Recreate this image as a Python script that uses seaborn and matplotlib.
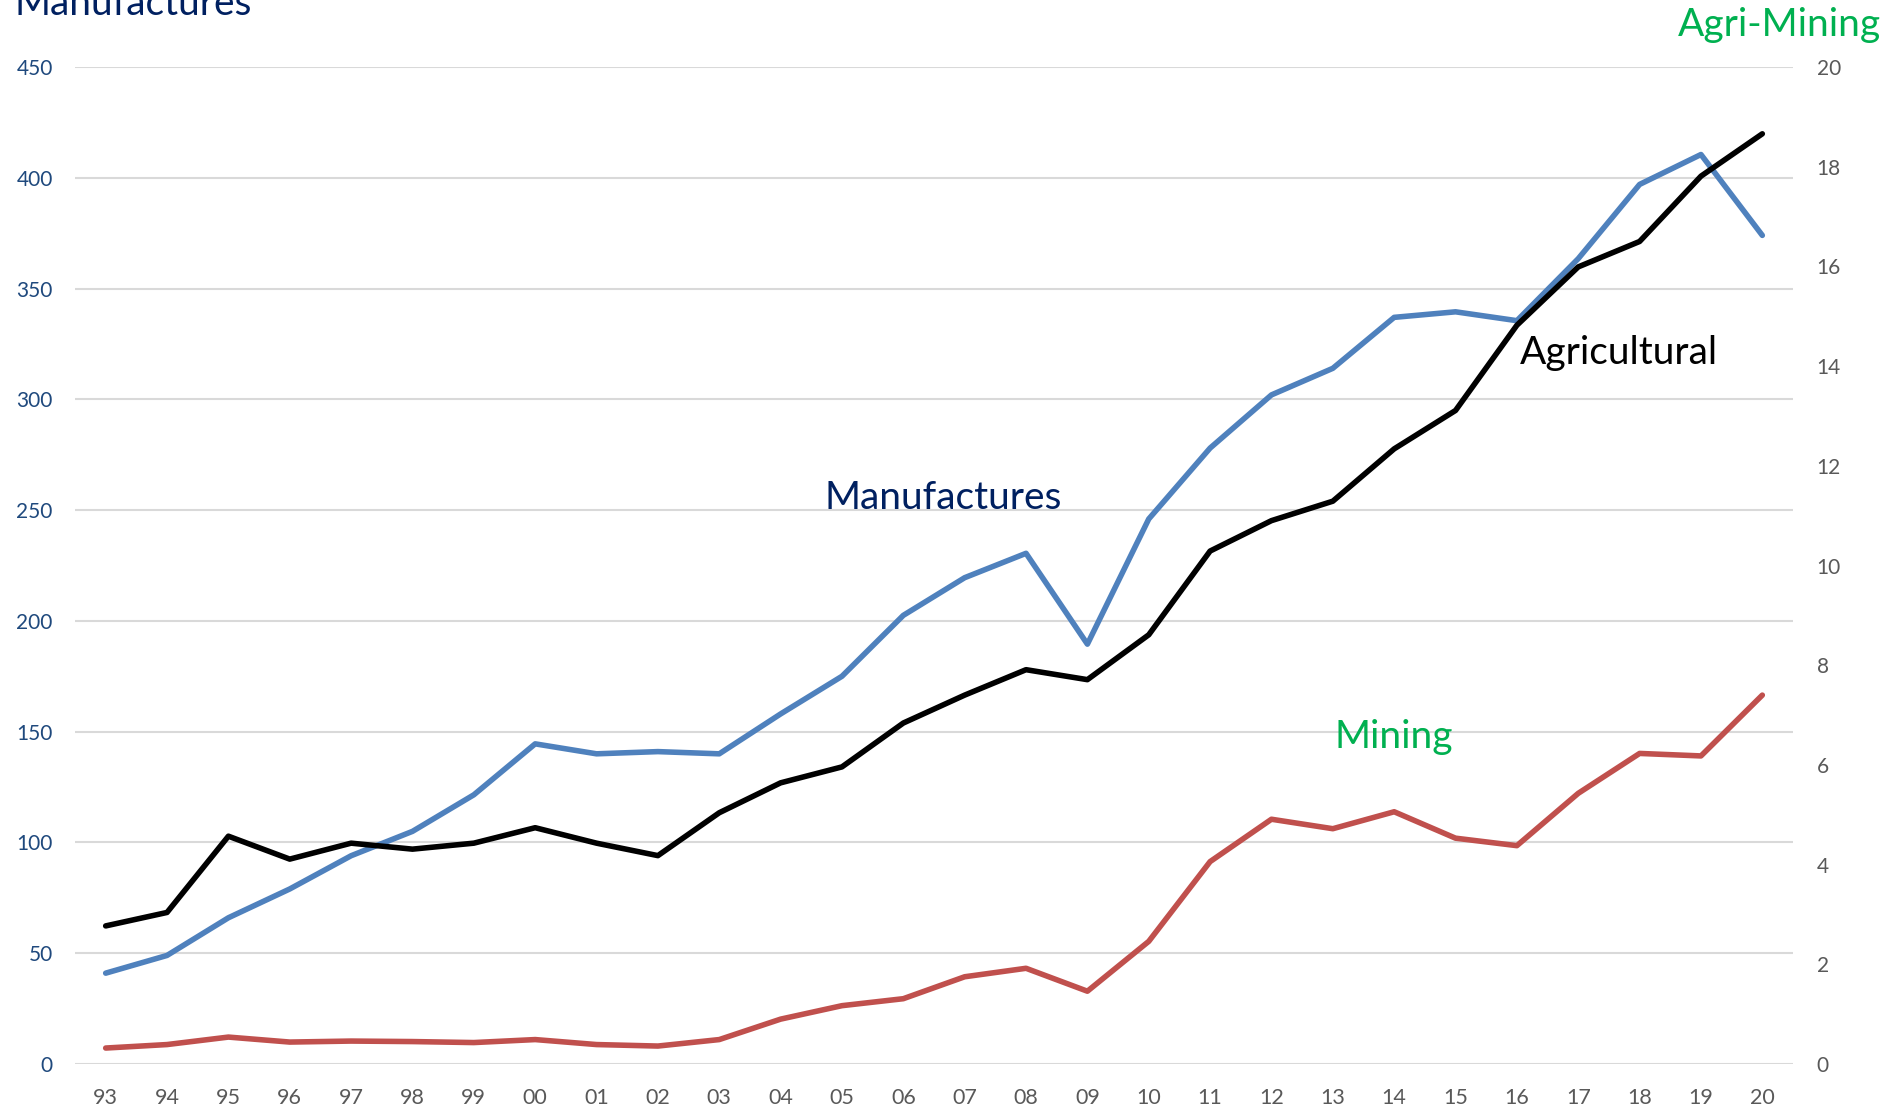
import numpy as np
import pandas as pd
import matplotlib
matplotlib.use("Agg")
import matplotlib.pyplot as plt
import seaborn as sns

# 年份标签
years = ["93", "94", "95", "96", "97", "98", "99", "00", "01", "02", "03", "04", "05", "06",
         "07", "08", "09", "10", "11", "12", "13", "14", "15", "16", "17", "18", "19", "20"]
# 左轴: Manufactures
manufactures = [41, 49, 66, 79, 94, 105, 121.5, 144.5, 140, 141, 140, 158, 175, 202.5,
                219.5, 230.5, 189.5, 246, 278, 302, 314, 337, 339.5, 335.5, 363.5, 397, 410.5, 374]
# 右轴: Agricultural, Mining
agricultural = [2.77, 3.04, 4.57, 4.11, 4.43, 4.31, 4.43, 4.74, 4.43, 4.18, 5.04, 5.64, 5.96, 6.84,
                7.40, 7.91, 7.71, 8.61, 10.29, 10.90, 11.29, 12.34, 13.11, 14.82, 15.99, 16.50, 17.81, 18.66]
mining = [0.32, 0.39, 0.54, 0.44, 0.46, 0.45, 0.43, 0.49, 0.39, 0.36, 0.49, 0.90, 1.17, 1.31,
          1.75, 1.92, 1.46, 2.46, 4.06, 4.91, 4.72, 5.06, 4.53, 4.38, 5.43, 6.23, 6.18, 7.40]
left_ticks = [0, 50, 100, 150, 200, 250, 300, 350, 400, 450]
right_ticks = [0, 2, 4, 6, 8, 10, 12, 14, 16, 18, 20]

df = pd.DataFrame({"idx": np.arange(len(years)), "year": years,
                   "Manufactures": manufactures, "Agricultural": agricultural, "Mining": mining})

sns.set_style("white")
plt.rcParams['font.family'] = ['Lato', 'DejaVu Sans']

fig = plt.figure(figsize=(19.02, 11.09), dpi=100)
ax = fig.add_axes([75/1902, 1-1064/1109, 1718/1902, 997/1109])
ax2 = ax.twinx()

sns.lineplot(data=df, x="idx", y="Manufactures", ax=ax, color="#4F81BD", linewidth=4, zorder=3)
sns.lineplot(data=df, x="idx", y="Mining", ax=ax2, color="#C0504D", linewidth=4)
sns.lineplot(data=df, x="idx", y="Agricultural", ax=ax2, color="black", linewidth=4)

ax.set_xlim(-0.5, len(years) - 0.5)
ax.set_ylim(0, 450)
ax2.set_ylim(0, 20)
ax.set_yticks(left_ticks)
ax2.set_yticks(right_ticks)
ax.set_xticks(df["idx"])
ax.set_xticklabels(years)
ax.yaxis.grid(True, color="#D9D9D9", linewidth=1.5)
ax.set_axisbelow(True)
ax.set_xlabel("")
ax.set_ylabel("")
ax2.set_ylabel("")
for a in (ax, ax2):
    for s in a.spines.values():
        s.set_visible(False)
ax.tick_params(axis="y", length=0, pad=16, labelsize=15, labelcolor="#1F497D")
ax.tick_params(axis="x", length=0, pad=17, labelsize=15.5, labelcolor="#595959")
ax2.tick_params(axis="y", length=0, pad=17, labelsize=15, labelcolor="#595959")

# 标注文字
ax.text(11.72, 250.5, "Manufactures", fontsize=28, color="#002060", va="baseline")
ax.text(23.05, 316, "Agricultural", fontsize=28, color="black", va="baseline")
ax.text(20.03, 142.6, "Mining", fontsize=28, color="#00B050", va="baseline")
fig.text(14/1902, 1-15/1109, "Manufactures", fontsize=28, color="#002060", va="baseline")
fig.text(1678/1902, 1-36/1109, "Agri-Mining", fontsize=28, color="#00B050", va="baseline")

plt.savefig("out.png", dpi=100)
